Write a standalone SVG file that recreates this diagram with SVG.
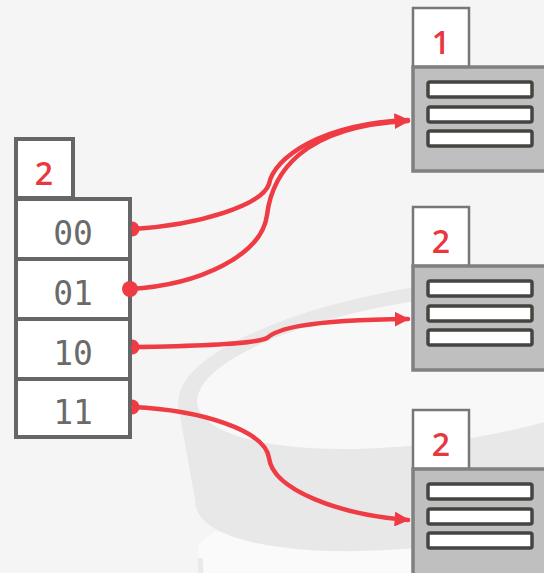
<svg xmlns="http://www.w3.org/2000/svg" width="544" height="573" viewBox="0 0 544 573">
<defs>
<style>
.bg{fill:#f5f5f5}
.wm{fill:#e8e8e8}
.cell{fill:#fff;stroke:#666;stroke-width:4}
.tab{fill:#fff;stroke:#666;stroke-width:4}
.btab{fill:#fff;stroke:#777;stroke-width:2.5}
.bbody{fill:#bfbfbf;stroke:#808080;stroke-width:3.5}
.bar{fill:#fff;stroke:#444440;stroke-width:3.5}
.key{font-family:"DejaVu Sans Mono","Liberation Mono",monospace;font-size:33px;fill:#6a6a6a;text-anchor:middle}
.depth{font-family:"Open Sans","Liberation Sans",sans-serif;font-size:32px;font-weight:600;fill:#e8373f;text-anchor:middle}
.link{fill:none;stroke:#ef3b44;stroke-width:4.5;stroke-linecap:round}
.dot{fill:#ef3b44}
</style>
<marker id="arr" viewBox="0 0 10 10" refX="9" refY="5" markerWidth="3.3" markerHeight="3.3" orient="auto" markerUnits="strokeWidth">
<path d="M0,0 L10,5 L0,10 Z" fill="#ef3b44"/>
</marker>
</defs>
<rect class="bg" x="0" y="0" width="544" height="573"/>
<g id="watermark">
<path d="M199,573 L198,548 Q199,540 215,532 L544,520 L544,573 Z" fill="#fafafa"/>
<path d="M201,573 L200,558" stroke="#e9e9e9" stroke-width="5" fill="none"/>
<ellipse class="wm" cx="445" cy="470" rx="252" ry="74" transform="rotate(-8 445 470)"/>
<polygon class="wm" points="178,405 196,505 620,520 620,360 450,368"/>
<ellipse class="wm" cx="442" cy="368" rx="266" ry="84" transform="rotate(-8 442 368)"/>
<ellipse cx="440" cy="370" rx="245" ry="72" transform="rotate(-8 440 370)" fill="#f8f8f8"/>
</g>
<g id="directory">
<rect class="tab" x="16" y="139" width="57" height="59"/>
<text class="depth" x="44" y="185">2</text>
<rect class="cell" x="16" y="199" width="114" height="60"/>
<rect class="cell" x="16" y="259" width="114" height="60"/>
<rect class="cell" x="16" y="319" width="114" height="60"/>
<rect class="cell" x="16" y="379" width="114" height="58"/>
<text class="key" x="73" y="245">00</text>
<text class="key" x="73" y="305">01</text>
<text class="key" x="73" y="365">10</text>
<text class="key" x="73" y="424">11</text>
</g>
<g id="bucket1">
<rect class="btab" x="413" y="8" width="56" height="59"/>
<text class="depth" x="441" y="54">1</text>
<rect class="bbody" x="413" y="67" width="140" height="104"/>
<rect class="bar" x="428" y="82" width="104" height="15" rx="2"/>
<rect class="bar" x="428" y="107" width="104" height="15" rx="2"/>
<rect class="bar" x="428" y="131" width="104" height="15" rx="2"/>
</g>
<g id="bucket2">
<rect class="btab" x="413" y="207" width="56" height="59"/>
<text class="depth" x="441" y="253">2</text>
<rect class="bbody" x="413" y="266" width="140" height="104"/>
<rect class="bar" x="428" y="281" width="104" height="15" rx="2"/>
<rect class="bar" x="428" y="306" width="104" height="15" rx="2"/>
<rect class="bar" x="428" y="330" width="104" height="15" rx="2"/>
</g>
<g id="bucket3">
<rect class="btab" x="413" y="410" width="56" height="59"/>
<text class="depth" x="441" y="456">2</text>
<rect class="bbody" x="413" y="469" width="140" height="110"/>
<rect class="bar" x="428" y="484" width="104" height="15" rx="2"/>
<rect class="bar" x="428" y="509" width="104" height="15" rx="2"/>
<rect class="bar" x="428" y="533" width="104" height="15" rx="2"/>
</g>
<g id="connectors">
<path class="link" marker-end="url(#arr)" d="M133,229 C200,225 262,205 269,184 C274,158 320,124 408,120"/>
<path class="link" marker-end="url(#arr)" d="M130,289 C200,285 262,255 267,215 C272,175 300,126 408,121"/>
<path class="link" marker-end="url(#arr)" d="M133,347 C200,346 258,343 267,338 C276,330 300,320 408,319"/>
<path class="link" marker-end="url(#arr)" d="M133,407 C200,410 265,430 269,458 C273,490 340,515 408,520"/>
<path class="dot" d="M132,221.5 A7.5,7.5 0 0 1 132,236.5 Z"/>
<circle class="dot" cx="130" cy="289" r="8"/>
<path class="dot" d="M132,339.5 A7.5,7.5 0 0 1 132,354.5 Z"/>
<path class="dot" d="M132,399.5 A7.5,7.5 0 0 1 132,414.5 Z"/>
</g>
</svg>
